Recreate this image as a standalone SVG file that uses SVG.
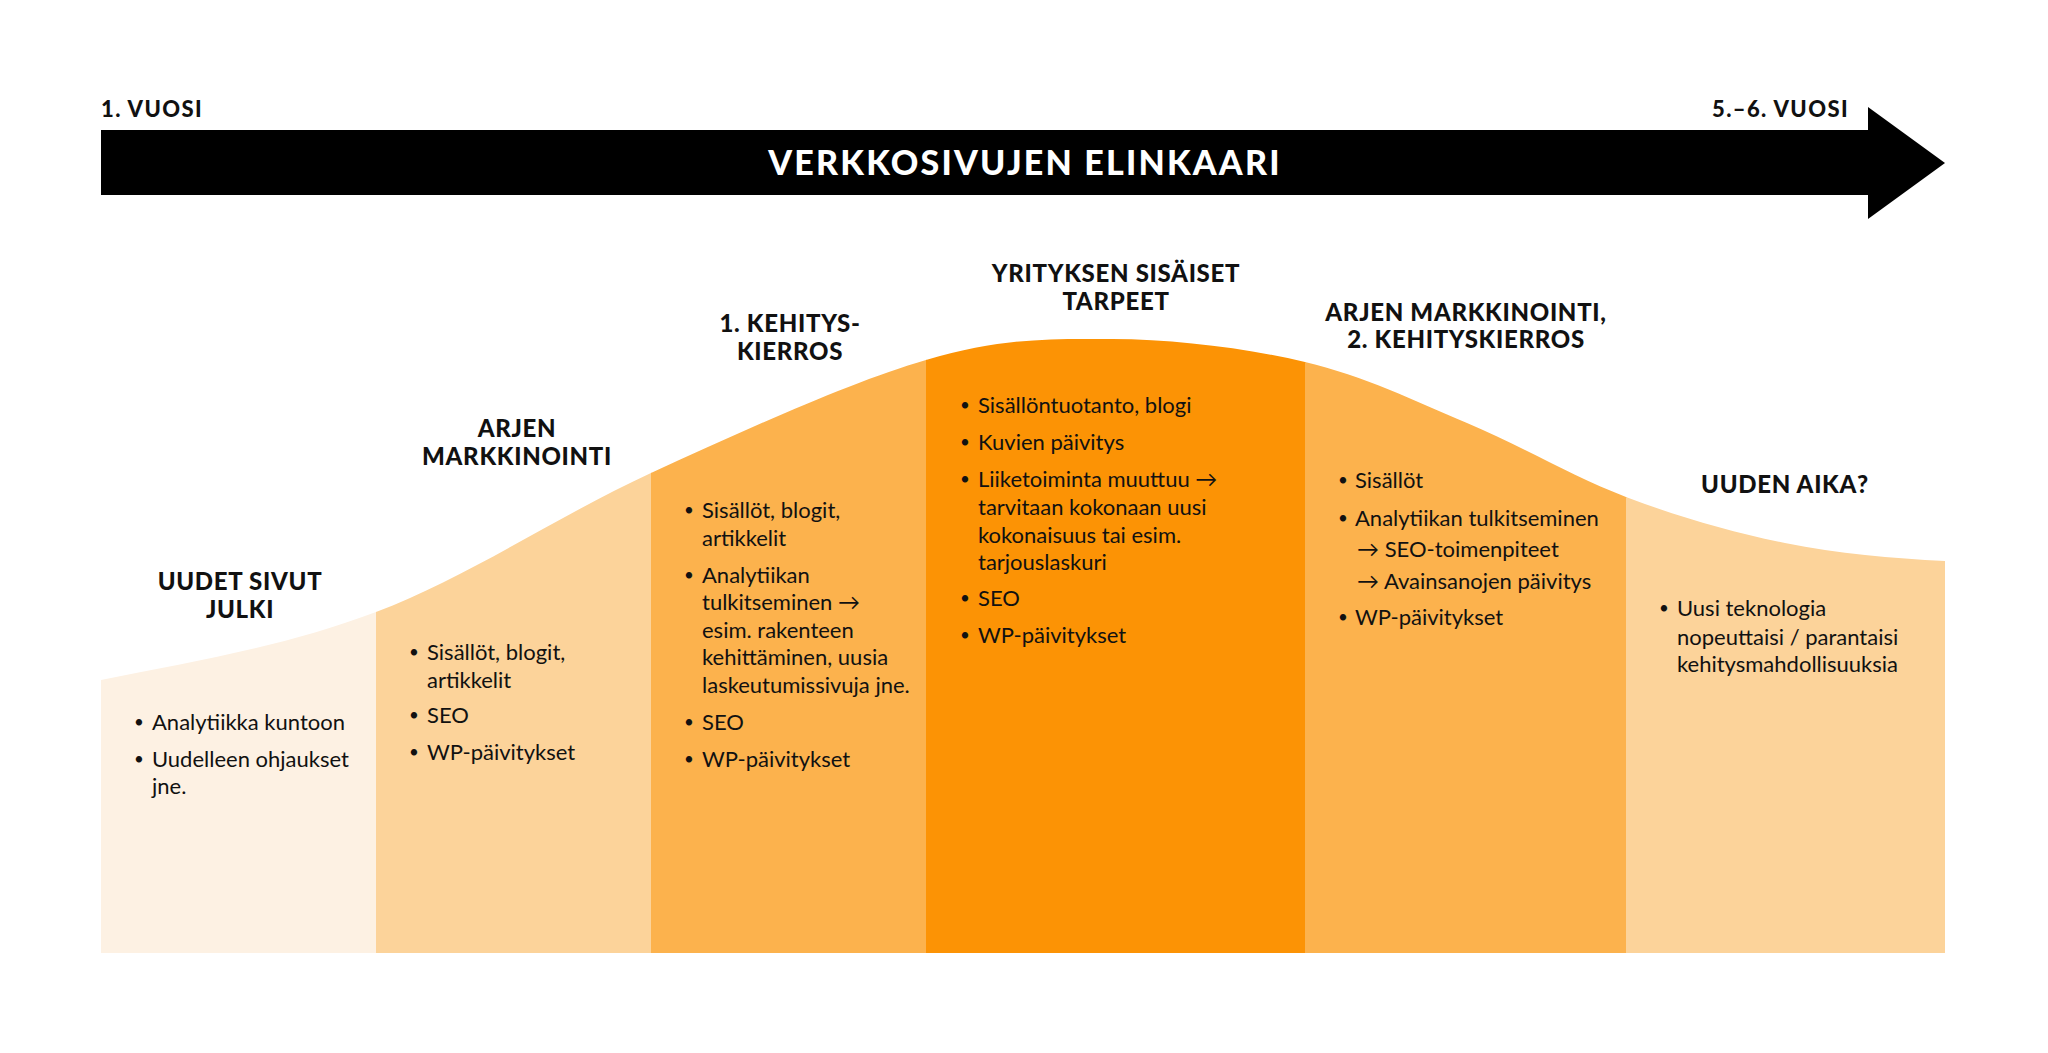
<svg xmlns="http://www.w3.org/2000/svg" width="2048" height="1053" viewBox="0 0 2048 1053">
<style>
.h{font-family:Lato,"Open Sans","Liberation Sans",sans-serif;font-weight:900;font-size:24px;letter-spacing:0.7px;fill:#111;text-anchor:middle}
.t{font-family:Lato,"Open Sans","Liberation Sans",sans-serif;font-size:22px;fill:#111}
.b{font-family:Lato,"Open Sans","Liberation Sans",sans-serif;font-size:17px;fill:#111}
.yr{font-family:Lato,"Open Sans","Liberation Sans",sans-serif;font-weight:900;font-size:22px;letter-spacing:1.4px;fill:#111}
.title{font-family:Lato,"Open Sans","Liberation Sans",sans-serif;font-weight:900;font-size:34px;letter-spacing:2.2px;fill:#fff;text-anchor:middle}
</style>
<defs>
<clipPath id="bell">
<path d="M101,680 C193,662 284.3,646.5 376,612 C467.7,577.5 559.3,515 651,473 C742.7,431 849.2,382.3 926,360 C1002.8,337.7 1048.8,338.7 1112,339 C1175.2,339.3 1245.8,348 1305,362 C1364.2,376 1413.5,400.5 1467,423 C1520.5,445.5 1573,477 1626,497 C1679,517 1731.8,532.3 1785,543 C1838.2,553.7 1892,558.3 1945,561 L1945,953 L101,953 Z"/>
</clipPath>
</defs>
<rect width="2048" height="1053" fill="#fff"/>
<g id="timeline">
<path d="M101,130 L1868,130 L1868,107 L1945,163 L1868,219 L1868,195 L101,195 Z" fill="#000"/>
<text class="title" x="1025" y="175">VERKKOSIVUJEN ELINKAARI</text>
<text class="yr" x="101" y="117">1. VUOSI</text>
<text class="yr" x="1849" y="117" text-anchor="end">5.–6. VUOSI</text>
</g>
<g id="connectors"></g>
<g clip-path="url(#bell)">
<rect x="101" y="300" width="276" height="653" fill="#FDF1E3"/>
<rect x="376" y="300" width="276" height="653" fill="#FCD39A"/>
<rect x="651" y="300" width="276" height="653" fill="#FCB24D"/>
<rect x="926" y="300" width="380" height="653" fill="#FC9305"/>
<rect x="1305" y="300" width="322" height="653" fill="#FCB24D"/>
<rect x="1626" y="300" width="319" height="653" fill="#FCD39A"/>
</g>
<g id="stage1">
<text class="h" x="240" y="590">UUDET SIVUT</text>
<text class="h" x="240" y="618">JULKI</text>
<text class="b" x="134" y="728">•</text><text class="t" x="152" y="730">Analytiikka kuntoon</text>
<text class="b" x="134" y="765">•</text><text class="t" x="152" y="767">Uudelleen ohjaukset</text>
<text class="t" x="152" y="794">jne.</text>
</g>
<g id="stage2">
<text class="h" x="517" y="437">ARJEN</text>
<text class="h" x="517" y="465">MARKKINOINTI</text>
<text class="b" x="409" y="658">•</text><text class="t" x="427" y="660">Sisällöt, blogit,</text>
<text class="t" x="427" y="688">artikkelit</text>
<text class="b" x="409" y="721">•</text><text class="t" x="427" y="723">SEO</text>
<text class="b" x="409" y="758">•</text><text class="t" x="427" y="760">WP-päivitykset</text>
</g>
<g id="stage3">
<text class="h" x="790" y="332">1. KEHITYS-</text>
<text class="h" x="790" y="360">KIERROS</text>
<text class="b" x="684" y="516">•</text><text class="t" x="702" y="518">Sisällöt, blogit,</text>
<text class="t" x="702" y="546">artikkelit</text>
<text class="b" x="684" y="581">•</text><text class="t" x="702" y="583">Analytiikan</text>
<text class="t" x="702" y="610">tulkitseminen →</text>
<text class="t" x="702" y="638">esim. rakenteen</text>
<text class="t" x="702" y="665">kehittäminen, uusia</text>
<text class="t" x="702" y="693">laskeutumissivuja jne.</text>
<text class="b" x="684" y="728">•</text><text class="t" x="702" y="730">SEO</text>
<text class="b" x="684" y="765">•</text><text class="t" x="702" y="767">WP-päivitykset</text>
</g>
<g id="stage4">
<text class="h" x="1116" y="282">YRITYKSEN SISÄISET</text>
<text class="h" x="1116" y="310">TARPEET</text>
<text class="b" x="960" y="411">•</text><text class="t" x="978" y="413">Sisällöntuotanto, blogi</text>
<text class="b" x="960" y="448">•</text><text class="t" x="978" y="450">Kuvien päivitys</text>
<text class="b" x="960" y="485">•</text><text class="t" x="978" y="487">Liiketoiminta muuttuu →</text>
<text class="t" x="978" y="515">tarvitaan kokonaan uusi</text>
<text class="t" x="978" y="543">kokonaisuus tai esim.</text>
<text class="t" x="978" y="570">tarjouslaskuri</text>
<text class="b" x="960" y="604">•</text><text class="t" x="978" y="606">SEO</text>
<text class="b" x="960" y="641">•</text><text class="t" x="978" y="643">WP-päivitykset</text>
</g>
<g id="stage5">
<text class="h" x="1466" y="321">ARJEN MARKKINOINTI,</text>
<text class="h" x="1466" y="348">2. KEHITYSKIERROS</text>
<text class="b" x="1338" y="486">•</text><text class="t" x="1355" y="488">Sisällöt</text>
<text class="b" x="1338" y="524">•</text><text class="t" x="1355" y="526">Analytiikan tulkitseminen</text>
<text class="t" x="1357" y="557">→ SEO-toimenpiteet</text>
<text class="t" x="1357" y="589">→ Avainsanojen päivitys</text>
<text class="b" x="1338" y="623">•</text><text class="t" x="1355" y="625">WP-päivitykset</text>
</g>
<g id="stage6">
<text class="h" x="1785" y="493">UUDEN AIKA?</text>
<text class="b" x="1659" y="614">•</text><text class="t" x="1677" y="616">Uusi teknologia</text>
<text class="t" x="1677" y="645">nopeuttaisi / parantaisi</text>
<text class="t" x="1677" y="672">kehitysmahdollisuuksia</text>
</g>
</svg>
